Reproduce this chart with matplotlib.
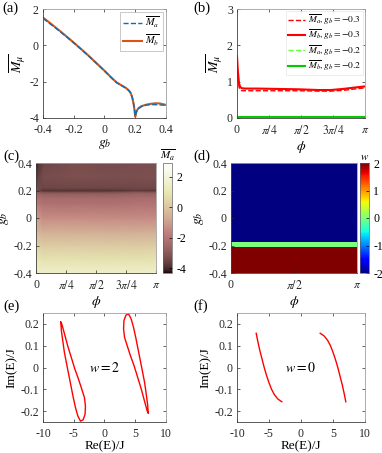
import numpy as np
import matplotlib
matplotlib.use('Agg')
import matplotlib.pyplot as plt

plt.rcParams['font.family'] = ['Liberation Serif', 'DejaVu Serif']
plt.rcParams['mathtext.fontset'] = 'stix'
plt.rcParams['axes.unicode_minus'] = False

# ---- (a) time-averaged magnetisation vs g_b
gb_a = [-0.40, -0.35, -0.30, -0.25, -0.20, -0.15, -0.10, -0.05, 0.00, 0.05, 0.08, 0.10,
        0.12, 0.14, 0.15, 0.16, 0.17, 0.18, 0.19, 0.195, 0.20, 0.205, 0.21, 0.22, 0.24,
        0.27, 0.30, 0.33, 0.36, 0.40]
Mb_a = [1.53, 1.20, 0.86, 0.51, 0.15, -0.22, -0.60, -1.00, -1.40, -1.82, -2.05, -2.15,
        -2.25, -2.35, -2.42, -2.50, -2.62, -2.85, -3.25, -3.55, -3.92, -3.72, -3.60, -3.47, -3.35,
        -3.27, -3.22, -3.19, -3.20, -3.28]
Ma_a = [1.48, 1.16, 0.83, 0.49, 0.13, -0.23, -0.61, -1.01, -1.41, -1.83, -2.06, -2.16,
        -2.26, -2.36, -2.43, -2.51, -2.63, -2.86, -3.26, -3.56, -3.90, -3.74, -3.62, -3.49, -3.37,
        -3.29, -3.26, -3.27, -3.28, -3.30]

# ---- (b) vs phi
phi_b = [0.0, 0.02, 0.05, 0.08, 0.12, 0.2, 0.5, 1.0, 1.5, 2.0, 2.3, 2.6, 2.9, np.pi]
Mb_03 = [1.70, 1.30, 0.95, 0.85, 0.82, 0.81, 0.81, 0.80, 0.79, 0.77, 0.77, 0.80, 0.84, 0.87]
Ma_03 = [1.55, 1.15, 0.85, 0.77, 0.75, 0.75, 0.75, 0.75, 0.75, 0.74, 0.74, 0.76, 0.80, 0.83]
Mb_02 = [0.02, 0.02, 0.02, 0.02, 0.02, 0.02, 0.02, 0.02, 0.02, 0.02, 0.02, 0.02, 0.02, 0.02]
Ma_02 = [0.04, 0.03, 0.03, 0.03, 0.03, 0.03, 0.03, 0.03, 0.03, 0.02, 0.01, 0.00, 0.00, 0.02]

# ---- (c) map of M_a over (phi, g_b)
phi_c = [0.0, 0.06, 0.2, 1.0, 2.0, 2.6, np.pi]
gb_c = [-0.4, -0.3, -0.2, -0.1, 0.0, 0.1, 0.15, 0.18, 0.195, 0.2, 0.205, 0.22, 0.3, 0.4]
M_c = [
    [1.8, 1.6, 1.5, 1.5, 1.5, 1.5, 1.5],
    [1.4, 1.0, 0.85, 0.85, 0.83, 0.83, 0.9],
    [0.7, 0.3, 0.15, 0.15, 0.12, 0.12, 0.15],
    [-0.1, -0.45, -0.6, -0.6, -0.62, -0.62, -0.6],
    [-0.7, -1.1, -1.4, -1.4, -1.42, -1.42, -1.4],
    [-1.6, -1.9, -2.15, -2.15, -2.15, -2.1, -2.1],
    [-2.1, -2.3, -2.42, -2.42, -2.42, -2.35, -2.35],
    [-2.5, -2.7, -2.85, -2.85, -2.85, -2.75, -2.75],
    [-2.8, -3.2, -3.55, -3.55, -3.55, -3.3, -3.4],
    [-3.0, -3.5, -3.92, -3.92, -3.92, -3.8, -3.85],
    [-3.1, -3.45, -3.72, -3.72, -3.72, -3.6, -3.65],
    [-3.3, -3.4, -3.47, -3.47, -3.47, -3.45, -3.45],
    [-3.9, -3.6, -3.3, -3.22, -3.25, -3.25, -3.22],
    [-4.2, -3.9, -3.5, -3.28, -3.35, -3.3, -3.28],
]

# ---- (d) winding number
gb_d_edges = [-0.4, -0.213, -0.177, 0.4]
w_d = [2, 0, -2]

# ---- (e) complex spectrum, w = 2 (two loops)
e1_re = [-7.11, -7.01, -6.79, -6.52, -6.15, -5.78, -5.40, -5.08, -4.71, -4.33, -3.90, -3.48,
         -3.16, -3.10, -3.26, -3.69, -4.22, -4.81, -5.40, -5.99, -6.58, -6.95, -7.11]
e1_im = [0.208, 0.169, 0.123, 0.069, 0.015, -0.038, -0.092, -0.138, -0.185, -0.223, -0.246, -0.240,
         -0.215, -0.177, -0.138, -0.100, -0.054, -0.008, 0.046, 0.100, 0.162, 0.200, 0.208]
e2_re = [7.11, 7.01, 6.79, 6.52, 6.15, 5.78, 5.40, 5.08, 4.71, 4.33, 3.90, 3.48,
         3.16, 3.10, 3.26, 3.69, 4.22, 4.81, 5.40, 5.99, 6.58, 6.95, 7.11]
e2_im = [-0.208, -0.169, -0.123, -0.069, -0.015, 0.038, 0.092, 0.138, 0.185, 0.223, 0.246, 0.240,
         0.215, 0.177, 0.138, 0.100, 0.054, 0.008, -0.046, -0.100, -0.162, -0.200, -0.208]

# ---- (f) complex spectrum, w = 0 (two open arcs)
f1_re = [-7.0, -6.75, -6.45, -6.1, -5.75, -5.4, -5.0, -4.6, -4.15, -3.6, -3.0]
f1_im = [0.157, 0.12, 0.08, 0.04, 0.0, -0.035, -0.07, -0.10, -0.125, -0.145, -0.157]
f2_re = [3.0, 3.6, 4.15, 4.6, 5.0, 5.4, 5.75, 6.1, 6.45, 6.75, 7.0]
f2_im = [0.157, 0.145, 0.125, 0.10, 0.07, 0.035, 0.0, -0.04, -0.08, -0.12, -0.157]

W, H = 382, 453
fig = plt.figure(figsize=(W / 100, H / 100), dpi=100)


def add_ax(l, t, r, b):
    return fig.add_axes([l / W, 1 - b / H, (r - l) / W, (b - t) / H])


def style(ax):
    ax.tick_params(direction='in', top=True, right=True, length=2.5, width=0.5,
                   labelsize=8.5, colors='#262626')
    ax.tick_params(axis='x', pad=4)
    ax.tick_params(axis='y', pad=3)
    for s in ['left', 'bottom']:
        ax.spines[s].set_color('#404040')
    for s in ['top', 'right']:
        ax.spines[s].set_color('#a0a0a0')
    for s in ax.spines.values():
        s.set_linewidth(0.6)


pi_ticks = [0, np.pi / 4, np.pi / 2, 3 * np.pi / 4, np.pi]
pi_labels = ['0', r'$\pi/4$', r'$\pi/2$', r'$3\pi/4$', r'$\pi$']

# (a)
ax = add_ax(43, 9, 166, 118)
ax.plot(gb_a, Ma_a, '--', color='#0072BD', lw=1.0, label=r'$\overline{M_a}$', zorder=3)
ax.plot(gb_a, Mb_a, '-', color='#D95319', lw=1.5, label=r'$\overline{M_b}$', zorder=2)
ax.set_xlim(-0.4, 0.4)
ax.set_ylim(-4, 2)
ax.set_xticks([-0.4, -0.2, 0, 0.2, 0.4])
ax.set_xticklabels(['-0.4', '-0.2', '0', '0.2', '0.4'])
ax.set_yticks([-4, -2, 0, 2])
style(ax)
ax.set_xlabel(r'$g_b$', fontsize=10, labelpad=2)
ax.set_ylabel(r'$\overline{M_\mu}$', fontsize=10, labelpad=1)
leg = ax.legend(loc='upper right', fontsize=7.5, handlelength=1.8, borderpad=0.3,
                labelspacing=0.2, handletextpad=0.3, borderaxespad=0.3, fancybox=False)
leg.get_frame().set_edgecolor('#a0a0a0')
leg.get_frame().set_linewidth(0.5)

# (b)
ax = add_ax(237, 9, 365, 118)
ax.plot(phi_b, Ma_03, '--', color='#FF0000', lw=1.0, label=r'$\overline{M_a}, g_b=-0.3$')
ax.plot(phi_b, Mb_03, '-', color='#FF0000', lw=1.5, label=r'$\overline{M_b}, g_b=-0.3$')
ax.plot(phi_b, Ma_02, '--', color='#66FF33', lw=1.0, label=r'$\overline{M_a}, g_b=-0.2$')
ax.plot(phi_b, Mb_02, '-', color='#00CC00', lw=1.5, label=r'$\overline{M_b}, g_b=-0.2$')
ax.set_xlim(0, np.pi)
ax.set_ylim(0, 3)
ax.set_xticks(pi_ticks)
ax.set_xticklabels(pi_labels)
ax.set_yticks([0, 1, 2, 3])
style(ax)
ax.set_xlabel(r'$\phi$', fontsize=10, labelpad=2)
ax.set_ylabel(r'$\overline{M_\mu}$', fontsize=10, labelpad=1)
leg = ax.legend(loc='upper right', fontsize=6.8, handlelength=1.8, borderpad=0.2,
                labelspacing=0.1, handletextpad=0.3, borderaxespad=0.2, fancybox=False)
leg.get_frame().set_edgecolor('#e0e0e0')
leg.get_frame().set_linewidth(0.5)

# (c)
ax = add_ax(36, 163, 156, 273)
P, G = np.meshgrid(phi_c, gb_c)
mesh = ax.pcolormesh(P, G, np.array(M_c), cmap='pink', shading='gouraud', vmin=-4.3, vmax=2.9)
ax.set_xlim(0, np.pi)
ax.set_ylim(-0.4, 0.4)
ax.set_xticks(pi_ticks)
ax.set_xticklabels(pi_labels)
ax.set_yticks([-0.4, -0.2, 0, 0.2, 0.4])
ax.set_yticklabels(['-0.4', '-0.2', '0', '0.2', '0.4'])
style(ax)
ax.tick_params(top=False, right=False)
ax.set_xlabel(r'$\phi$', fontsize=10, labelpad=2)
ax.set_ylabel(r'$g_b$', fontsize=10, labelpad=1)
cax = add_ax(163, 163, 172, 273)
cb = fig.colorbar(mesh, cax=cax, ticks=[-4, -2, 0, 2])
cb.ax.set_yticklabels(['-4', '-2', '0', '2'])
cb.ax.tick_params(direction='in', length=2, width=0.5, labelsize=8.5, pad=3)
cb.outline.set_linewidth(0.5)
cb.outline.set_edgecolor('#606060')
cax.set_title(r'$\overline{M_a}$', fontsize=8, pad=2)

# (d)
ax = add_ax(231, 163, 357, 273)
wmesh = ax.pcolormesh([0, np.pi], gb_d_edges, np.array(w_d).reshape(-1, 1),
                      cmap='jet', vmin=-2, vmax=2, shading='flat')
ax.set_xlim(0, np.pi)
ax.set_ylim(-0.4, 0.4)
ax.set_xticks([0, np.pi / 2, np.pi])
ax.set_xticklabels(['0', r'$\pi/2$', r'$\pi$'])
ax.set_yticks([-0.4, -0.2, 0, 0.2, 0.4])
ax.set_yticklabels(['-0.4', '-0.2', '0', '0.2', '0.4'])
style(ax)
ax.tick_params(top=False, right=False)
ax.set_xlabel(r'$\phi$', fontsize=10, labelpad=2)
ax.set_ylabel(r'$g_b$', fontsize=10, labelpad=1)
cax = add_ax(360, 163, 369, 273)
cb = fig.colorbar(wmesh, cax=cax, ticks=[-2, -1, 0, 1, 2])
cb.ax.set_yticklabels(['-2', '-1', '0', '1', '2'])
cb.ax.tick_params(direction='in', length=2, width=0.5, labelsize=8.5, pad=3)
cb.outline.set_linewidth(0.5)
cb.outline.set_edgecolor('#606060')
cax.set_title(r'$w$', fontsize=8, pad=2)

# (e)
ax = add_ax(43, 313, 166, 422)
ax.plot(e1_re, e1_im, '-', color='#FF0000', lw=1.0)
ax.plot(e2_re, e2_im, '-', color='#FF0000', lw=1.0)
ax.text(0, 0, r'$w=2$', fontsize=10, ha='center', va='center')
ax.set_xlim(-10, 10)
ax.set_ylim(-0.25, 0.25)
ax.set_xticks([-10, -5, 0, 5, 10])
ax.set_xticklabels(['-10', '-5', '0', '5', '10'])
ax.set_yticks([-0.2, -0.1, 0, 0.1, 0.2])
ax.set_yticklabels(['-0.2', '-0.1', '0', '0.1', '0.2'])
style(ax)
ax.set_xlabel('Re(E)/J', fontsize=9.5, labelpad=0.5)
ax.set_ylabel('Im(E)/J', fontsize=9.5, labelpad=2)

# (f)
ax = add_ax(237, 313, 365, 422)
ax.plot(f1_re, f1_im, '-', color='#FF0000', lw=1.0)
ax.plot(f2_re, f2_im, '-', color='#FF0000', lw=1.0)
ax.text(0, 0, r'$w=0$', fontsize=10, ha='center', va='center')
ax.set_xlim(-10, 10)
ax.set_ylim(-0.25, 0.25)
ax.set_xticks([-10, -5, 0, 5, 10])
ax.set_xticklabels(['-10', '-5', '0', '5', '10'])
ax.set_yticks([-0.2, -0.1, 0, 0.1, 0.2])
ax.set_yticklabels(['-0.2', '-0.1', '0', '0.1', '0.2'])
style(ax)
ax.set_xlabel('Re(E)/J', fontsize=9.5, labelpad=0.5)
ax.set_ylabel('Im(E)/J', fontsize=9.5, labelpad=2)

# panel letters
for lab, x, y in [('(a)', 2, 8), ('(b)', 193, 8), ('(c)', 3, 156),
                  ('(d)', 193, 156), ('(e)', 3, 306), ('(f)', 193, 306)]:
    fig.text(x / W, 1 - y / H, lab, fontsize=10.5, ha='left', va='center')

fig.savefig('out.png', dpi=100)
